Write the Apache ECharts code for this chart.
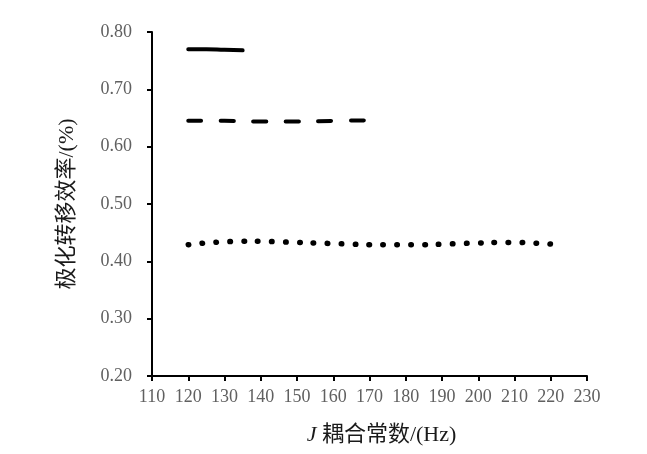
<!DOCTYPE html>
<html><head><meta charset="utf-8">
<script src="https://cdn.jsdelivr.net/npm/echarts@6/dist/echarts.min.js"></script>
<style>html,body{margin:0;padding:0;background:#fff}#c{width:647px;height:454px}</style>
</head><body><div id="c"></div>
<script>
// Data
const xSolid = [120, 125, 130, 135];
const ySolid = [0.770, 0.770, 0.769, 0.768];
const xDashed = [120, 130, 140, 150, 160, 170];
const yDashed = [0.645, 0.645, 0.644, 0.644, 0.645, 0.646];
const xDotted = [120, 125, 130, 135, 140, 145, 150, 155, 160, 165, 170, 175, 180, 185, 190, 195, 200, 205, 210, 215, 220];
const yDotted = [0.429, 0.432, 0.434, 0.435, 0.435, 0.434, 0.433, 0.432, 0.431, 0.430, 0.429, 0.429, 0.429, 0.429, 0.430, 0.431, 0.432, 0.433, 0.433, 0.432, 0.430];
const xTicks = { min: 110, max: 230, step: 10 };
const yTicks = { min: 0.2, max: 0.8, step: 0.1 };
const xName = '{i|J} 耦合常数/(Hz)';
const yName = '极化转移效率/(%)';

const zip = (xs, ys) => xs.map((x, i) => [x, ys[i]]);
const serif = '"Liberation Serif", "Noto Sans CJK SC", serif';

const chart = echarts.init(document.getElementById('c'), null, { renderer: 'canvas' });
chart.setOption({
  animation: false,
  backgroundColor: '#fff',
  grid: { left: 152, right: 60, top: 32, bottom: 78, containLabel: false },
  xAxis: {
    type: 'value', min: xTicks.min, max: xTicks.max, interval: xTicks.step,
    name: xName, nameLocation: 'middle', nameGap: 48,
    nameTextStyle: { fontFamily: serif, fontSize: 22, color: '#1a1a1a', padding: [0, 0, 0, 24],
      rich: { i: { fontFamily: serif, fontSize: 22, fontStyle: 'italic', color: '#1a1a1a' } } },
    axisLine: { show: true, onZero: false, lineStyle: { color: '#000', width: 2 } },
    axisTick: { show: true, inside: false, length: 5, lineStyle: { color: '#000', width: 2 } },
    axisLabel: { color: '#606060', fontFamily: serif, fontSize: 18, margin: 12 },
    splitLine: { show: false }
  },
  yAxis: {
    type: 'value', min: yTicks.min, max: yTicks.max, interval: yTicks.step,
    name: yName, nameLocation: 'middle', nameGap: 74, nameRotate: 90,
    nameTextStyle: { fontFamily: serif, fontSize: 22, color: '#1a1a1a' },
    axisLine: { show: true, onZero: false, lineStyle: { color: '#000', width: 2 } },
    axisTick: { show: true, inside: false, length: 5, lineStyle: { color: '#000', width: 2 } },
    axisLabel: { color: '#606060', fontFamily: serif, fontSize: 18, margin: 20,
      formatter: v => v.toFixed(2) },
    splitLine: { show: false }
  },
  series: [
    { type: 'line', data: zip(xSolid, ySolid), symbol: 'none', smooth: true,
      lineStyle: { color: '#000', width: 4, type: 'solid', cap: 'round' } },
    { type: 'line', data: zip(xDashed, yDashed), symbol: 'none', smooth: true,
      lineStyle: { color: '#000', width: 4, type: [13, 19.5], cap: 'round' } },
    { type: 'line', data: zip(xDotted, yDotted), symbol: 'none', smooth: true,
      lineStyle: { color: '#000', width: 5.5, type: [0.5, 13.42], cap: 'round' } }
  ]
});
</script>
</body></html>
